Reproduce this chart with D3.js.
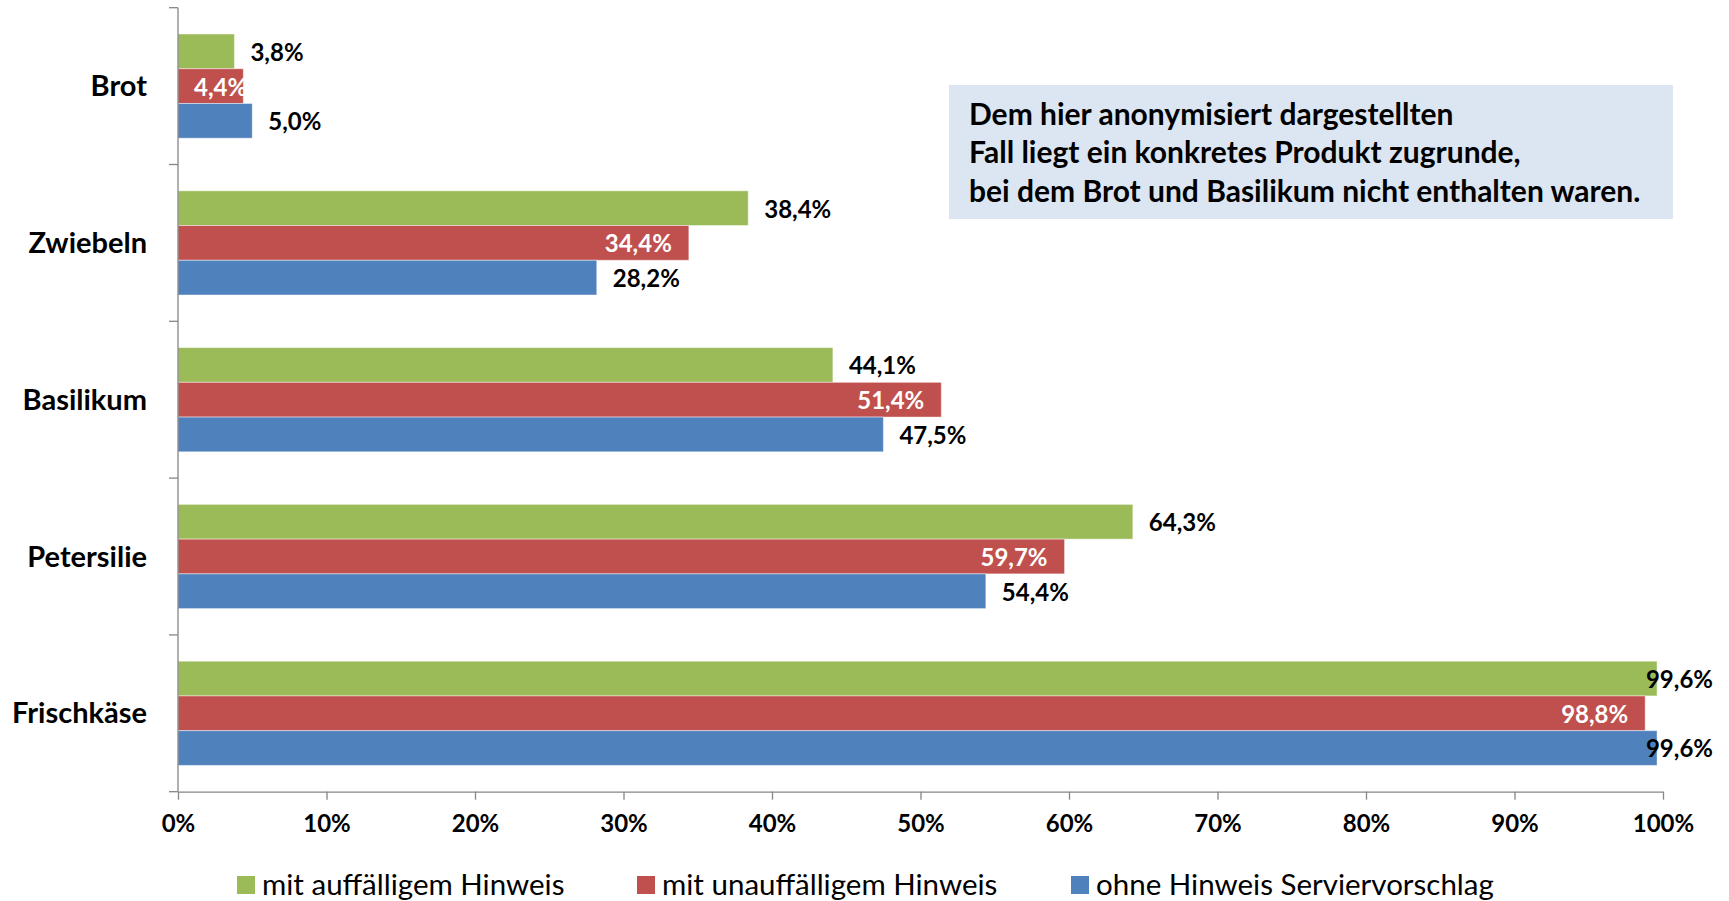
<!DOCTYPE html>
<html>
<head>
<meta charset="utf-8">
<script src="https://cdn.jsdelivr.net/npm/d3@7"></script>
<style>
  body { margin: 0; background: #fff; }
  svg { display: block; font-family: Lato, "Open Sans", sans-serif; }
  .axis path, .axis line { stroke: #868686; stroke-width: 1.3; }
  .axis text { font-size: 24px; font-weight: bold; fill: #000; }
  .cat { font-size: 29px; font-weight: bold; }
  .val { font-size: 24px; font-weight: bold; }
  .legend text { font-size: 29.5px; }
  .note { font-size: 30px; font-weight: bold; }
</style>
</head>
<body>
<div id="chart"></div>
<script>
// Data
const categories = ['Brot', 'Zwiebeln', 'Basilikum', 'Petersilie', 'Frischkäse']
const series = ['mit auffälligem Hinweis', 'mit unauffälligem Hinweis', 'ohne Hinweis Serviervorschlag']
const colors = ['#9BBB59', '#C0504D', '#4F81BD']
const gruen = [3.8, 38.4, 44.1, 64.3, 99.6]
const rot = [4.4, 34.4, 51.4, 59.7, 98.8]
const blau = [5.0, 28.2, 47.5, 54.4, 99.6]
const xTicks = [0, 10, 20, 30, 40, 50, 60, 70, 80, 90, 100]
const noteLines = [
    'Dem hier anonymisiert dargestellten',
    'Fall liegt ein konkretes Produkt zugrunde,',
    'bei dem Brot und Basilikum nicht enthalten waren.'
]

const values = [gruen, rot, blau]
const fmt = v => d3.format('.1f')(v).replace('.', ',') + '%'

const W = 1729, H = 901
const x0 = 178, x1 = 1663, yTop = 7.7, yBot = 791.7

const svg = d3.select('#chart').append('svg')
    .attr('width', W)
    .attr('height', H)

let x = d3.scaleLinear().domain([0, 100]).range([x0, x1])

let y = d3.scaleBand()
    .domain(categories)
    .range([yTop, yBot])

let yInner = d3.scaleBand()
    .domain(series)
    .range([26.3, y.bandwidth() - 26.3])

// bars
const rows = []
categories.forEach((c, i) => {
    series.forEach((s, j) => rows.push({cat: c, ser: s, j: j, v: values[j][i]}))
})

svg.append('g')
  .selectAll('rect')
  .data(rows)
  .join('rect')
    .attr('x', x(0))
    .attr('y', d => y(d.cat) + yInner(d.ser))
    .attr('width', d => x(d.v) - x(0))
    .attr('height', yInner.bandwidth())
    .attr('fill', d => colors[d.j])
    .attr('stroke', 'rgba(255,255,255,0.45)')
    .attr('stroke-width', 1)

// x axis
svg.append('g')
    .attr('class', 'x-axis axis')
    .attr('transform', `translate(0,${yBot})`)
    .call(d3.axisBottom(x).tickValues(xTicks).tickFormat(d => d + '%').tickSize(8).tickSizeOuter(0).tickPadding(15))
    .call(g => g.selectAll('text').attr('font-family', 'Lato, sans-serif'))

// y axis: line with ticks at band boundaries
const yAx = svg.append('g').attr('class', 'y-axis axis')
yAx.append('line')
    .attr('x1', x0).attr('x2', x0)
    .attr('y1', yTop).attr('y2', yBot)
yAx.selectAll('.tk')
  .data(categories.map(c => y(c)).concat([yBot]))
  .join('line')
    .attr('class', 'tk')
    .attr('x1', x0 - 9).attr('x2', x0)
    .attr('y1', d => d).attr('y2', d => d)

svg.append('g')
  .selectAll('text')
  .data(categories)
  .join('text')
    .attr('class', 'cat')
    .attr('x', 147)
    .attr('y', d => y(d) + y.bandwidth() / 2)
    .attr('dy', '0.35em')
    .attr('text-anchor', 'end')
    .text(d => d)

// value labels
const labels = svg.append('g')
  .selectAll('text')
  .data(rows)
  .join('text')
    .attr('class', 'val')
    .attr('y', d => y(d.cat) + yInner(d.ser) + yInner.bandwidth() / 2 + 1)
    .attr('dy', '0.35em')
    .attr('fill', d => d.j === 1 ? '#fff' : '#000')
    .text(d => fmt(d.v))

labels.each(function(d) {
    const w = this.getComputedTextLength()
    let xs
    if (d.j === 1) {
        xs = x(d.v) - 17 - w
        if (xs < x0 + 16) xs = x0 + 16
    } else {
        xs = x(d.v) + 16
        if (xs + w > 1713) xs = 1713 - w
    }
    d3.select(this).attr('x', xs)
})

// note box
const note = svg.append('g').attr('transform', 'translate(949,85)')
note.append('rect')
    .attr('width', 724)
    .attr('height', 134)
    .attr('fill', '#DCE6F2')
note.selectAll('text')
  .data(noteLines)
  .join('text')
    .attr('class', 'note')
    .attr('x', 20)
    .attr('y', (d, i) => 29 + i * 38.5)
    .attr('dy', '0.35em')
    .text(d => d)

// legend
const legX = [237, 637, 1071]
const leg = svg.append('g').attr('class', 'legend')
  .selectAll('g')
  .data(series)
  .join('g')
    .attr('transform', (d, i) => `translate(${legX[i]},885)`)
leg.append('rect')
    .attr('x', 0).attr('y', -9)
    .attr('width', 18).attr('height', 18)
    .attr('fill', (d, i) => colors[i])
leg.append('text')
    .attr('x', 25)
    .attr('dy', '0.35em')
    .text(d => d)
</script>
</body>
</html>
